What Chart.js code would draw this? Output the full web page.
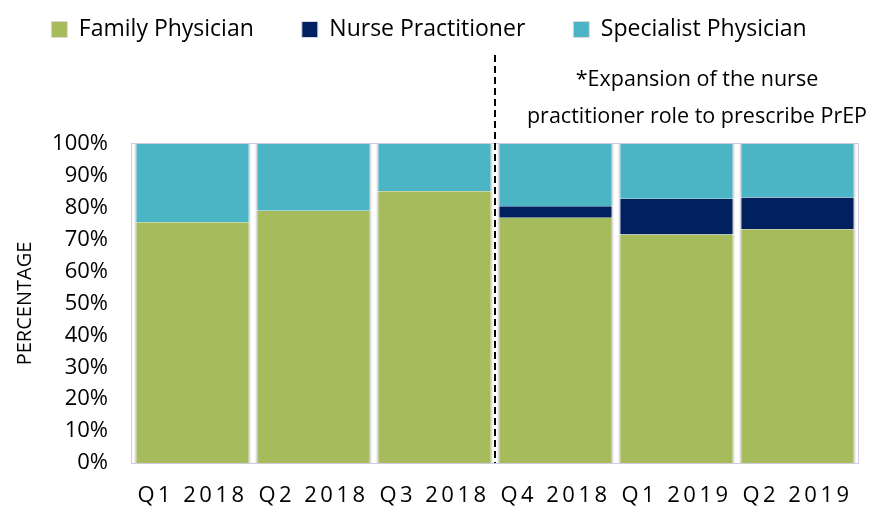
<!DOCTYPE html>
<html>
<head>
<meta charset="utf-8">
<script src="https://cdn.jsdelivr.net/npm/chart.js@4.4.1/dist/chart.umd.min.js"></script>
<style>
html,body{margin:0;padding:0;background:#fff;}
#wrap{width:873px;height:508px;position:relative;}
</style>
</head>
<body>
<div id="wrap"><canvas id="c" width="873" height="508"></canvas></div>
<script>
const categories = ['Q1 2018','Q2 2018','Q3 2018','Q4 2018','Q1 2019','Q2 2019'];
const familyPhysician = [75.5, 79.1, 85.2, 76.9, 71.6, 73.3];
const nursePractitioner = [0, 0, 0, 3.6, 11.2, 9.9];
const specialistPhysician = [24.5, 20.9, 14.8, 19.5, 17.2, 16.8];
const yTicks = [0,10,20,30,40,50,60,70,80,90,100];
const annotationLines = ['*Expansion of the nurse', 'practitioner role to prescribe PrEP'];
const FONT = '"Open Sans"';

const extras = {
  id: 'extras',
  afterDatasetsDraw(chart) {
    chart.ctx.letterSpacing = '3.5px';
  },
  afterDraw(chart) {
    const ctx = chart.ctx;
    ctx.letterSpacing = '0px';
    const a = chart.chartArea;
    const x = chart.scales.x;
    ctx.save();
    ctx.strokeStyle = '#d3cade';
    ctx.lineWidth = 1;
    ctx.strokeRect(a.left - 0.5, a.top - 0.5, a.right - a.left + 1, a.bottom - a.top + 1);
    const dx = Math.round((x.getPixelForValue(2) + x.getPixelForValue(3)) / 2);
    ctx.setLineDash([7, 4]);
    ctx.strokeStyle = '#000';
    ctx.lineWidth = 2;
    ctx.beginPath();
    ctx.moveTo(dx, 55);
    ctx.lineTo(dx, a.bottom);
    ctx.stroke();
    ctx.setLineDash([]);
    ctx.fillStyle = '#000';
    ctx.font = '21.5px ' + FONT;
    ctx.textAlign = 'center';
    ctx.textBaseline = 'middle';
    const cx = a.right - 161;
    ctx.fillText(annotationLines[0], cx, 80);
    ctx.fillText(annotationLines[1], cx, 117);
    ctx.restore();
  }
};

const border = {left: 2, right: 2, top: 0, bottom: 0};
new Chart(document.getElementById('c'), {
  type: 'bar',
  data: {
    labels: categories,
    datasets: [
      {label: 'Family Physician', data: familyPhysician, backgroundColor: '#a6bb5b', borderColor: '#d9d9d9', borderWidth: border, borderSkipped: false},
      {label: 'Nurse Practitioner', data: nursePractitioner, backgroundColor: '#002060', borderColor: '#d9d9d9', borderWidth: border, borderSkipped: false},
      {label: 'Specialist Physician', data: specialistPhysician, backgroundColor: '#4bb4c5', borderColor: '#d9d9d9', borderWidth: border, borderSkipped: false}
    ]
  },
  options: {
    responsive: false,
    animation: false,
    devicePixelRatio: 1,
    layout: {padding: {top: -30, right: 15, bottom: 0, left: 0}},
    datasets: {bar: {categoryPercentage: 1.0, barPercentage: 0.96}},
    plugins: {
      legend: {
        position: 'top',
        labels: {
          boxWidth: 16, boxHeight: 16, padding: 48,
          color: '#000',
          font: {family: 'Open Sans', size: 23}
        }
      },
      title: {display: true, position: 'top', weight: 500, text: '', font: {size: 10}, padding: {top: 0, bottom: 81}},
      tooltip: {enabled: false}
    },
    scales: {
      x: {
        stacked: true,
        grid: {display: false, drawTicks: false},
        border: {display: false},
        ticks: {z: 1, color: '#000', padding: 20, font: {family: 'Open Sans', size: 22}, maxRotation: 0, autoSkip: false},
        afterFit(s) { s.height = 45; }
      },
      y: {
        stacked: true,
        min: 0, max: 100,
        afterBuildTicks(s) { s.ticks = yTicks.map(v => ({value: v})); },
        grid: {display: false, drawTicks: false},
        border: {display: false},
        ticks: {color: '#000', padding: 24, font: {family: 'Open Sans', size: 22}, callback: v => v + '%'},
        title: {display: true, text: 'PERCENTAGE', color: '#000', font: {family: 'Open Sans', size: 20}, padding: {top: 13, bottom: 0}},
        afterFit(s) { s.width = 132; }
      }
    }
  },
  plugins: [extras]
});
</script>
</body>
</html>
